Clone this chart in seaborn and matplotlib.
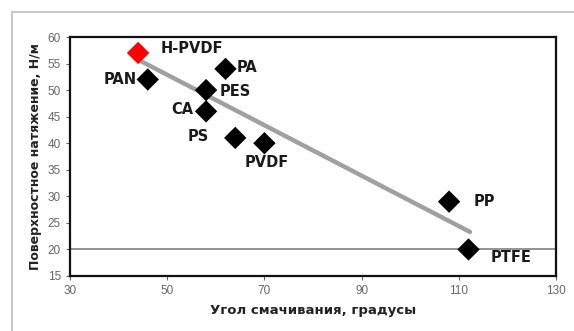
import matplotlib
matplotlib.use("Agg")
import matplotlib.pyplot as plt
import seaborn as sns
import pandas as pd
from matplotlib.patches import Rectangle

sns.set_theme(style="white")
plt.rcParams['font.family'] = ['Liberation Sans', 'DejaVu Sans']

materials = ["H-PVDF", "PAN", "PA", "PES", "CA", "PS", "PVDF", "PP", "PTFE"]
angle = [44, 46, 62, 58, 58, 64, 70, 108, 112]
tension = [57, 52, 54, 50, 46, 41, 40, 29, 20]
group = ["new", "ref", "ref", "ref", "ref", "ref", "ref", "ref", "ref"]
trend_x = [44.5, 112.3]
trend_y = [55.5, 23.3]
ref_level = 20
x_ticks = [30, 50, 70, 90, 110, 130]
y_ticks = [15, 20, 25, 30, 35, 40, 45, 50, 55, 60]

df = pd.DataFrame({"material": materials, "angle": angle, "tension": tension, "group": group})

fig = plt.figure(figsize=(5.74, 3.31), dpi=100)
fig.patches.append(Rectangle((12/574, -0.1), 1.5, (331-12)/331 + 0.1, transform=fig.transFigure,
                             fill=False, edgecolor="#c8c8c8", linewidth=1.5))
ax = fig.add_axes([70/574, 55/331, 486/574, 239/331])

ax.axhline(ref_level, color="#8a8a8a", linewidth=1.3, zorder=1)
sns.lineplot(x=trend_x, y=trend_y, ax=ax, color="#a0a0a0", linewidth=3.2, zorder=2)
sns.scatterplot(data=df, x="angle", y="tension", hue="group",
                palette={"new": "#ff0000", "ref": "#000000"}, marker="D", s=130,
                edgecolor="none", legend=False, ax=ax, zorder=3)

offsets = {
    "H-PVDF": (16, 3, "left"), "PAN": (-8, 0, "right"), "PA": (8, 1, "left"),
    "PES": (10, -1, "left"), "CA": (-9, 1, "right"), "PS": (-19, 1, "right"),
    "PVDF": (2, -14, "center"), "PP": (18, 0, "left"), "PTFE": (16, -6, "left"),
}
for m, xv, yv in zip(materials, angle, tension):
    dx, dy, ha = offsets[m]
    ax.annotate(m, (xv, yv), xytext=(dx, dy), textcoords="offset points",
                ha=ha, va="center", fontsize=10.5, fontweight="bold", color="#1a1a1a",
                family="DejaVu Sans")

ax.set_xlim(30, 130)
ax.set_ylim(15, 60)
ax.set_xticks(x_ticks)
ax.set_yticks(y_ticks)
ax.tick_params(axis="both", labelsize=8.5, colors="#666666", length=3, width=0.8,
               direction="out", bottom=True, left=True)
for s in ax.spines.values():
    s.set_color("#111111")
    s.set_linewidth(1.6)
ax.set_xlabel("Угол смачивания, градусы", fontsize=9.5, fontweight="bold", color="#222222",
              labelpad=5, family="DejaVu Sans")
ax.set_ylabel("Поверхностное натяжение, Н/м", fontsize=9, fontweight="bold", color="#222222",
              labelpad=4, family="DejaVu Sans")

fig.savefig("out.png", dpi=100)
